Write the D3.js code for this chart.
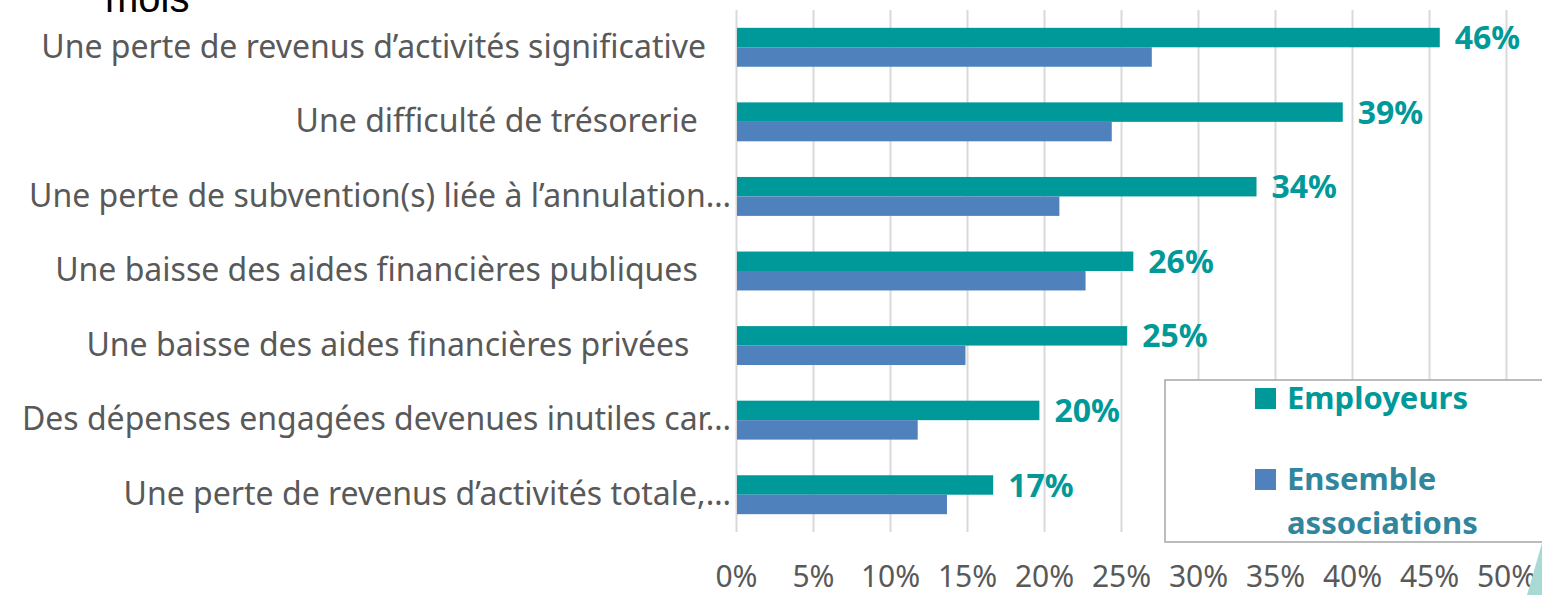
<!DOCTYPE html>
<html>
<head>
<meta charset="utf-8">
<script src="https://cdn.jsdelivr.net/npm/d3@7"></script>
<style>
  body { margin: 0; background: #fff; }
  svg { display: block; }
  .y-axis text { white-space: pre; }
</style>
</head>
<body>
<div class="chart"></div>
<script>
// chart data
var categories = [
  "Une perte de revenus d\u2019activités significative   ",
  "Une difficulté de trésorerie    ",
  "Une perte de subvention(s) liée à l\u2019annulation\u2026",
  "Une baisse des aides financières publiques    ",
  "Une baisse des aides financières privées     ",
  "Des dépenses engagées devenues inutiles car\u2026",
  "Une perte de revenus d\u2019activités totale,\u2026"
];
var seriesNames = ["Employeurs", "Ensemble associations"];
var employeurs = [0.457, 0.394, 0.338, 0.258, 0.254, 0.197, 0.167];
var ensemble = [0.270, 0.244, 0.210, 0.227, 0.149, 0.118, 0.137];
var tickValues = [0, 0.05, 0.10, 0.15, 0.20, 0.25, 0.30, 0.35, 0.40, 0.45, 0.50];

var svgWidth = 1542;
var svgHeight = 595;
var margin = { top: 10, right: 36, bottom: 63, left: 736 };
var width = svgWidth - margin.left - margin.right;
var height = svgHeight - margin.top - margin.bottom;

var colors = ["#009999", "#4F81BD"];
var legendText = ["#009999", "#31859C"];

var svg = d3
  .select(".chart")
  .append("svg")
  .attr("width", svgWidth)
  .attr("height", svgHeight);

// leftover of the title, cut by the top edge
svg.append("text")
  .attr("x", 105)
  .attr("y", 12)
  .style("font-family", "'Liberation Sans', Arial, sans-serif")
  .style("font-size", "40px")
  .attr("fill", "#000")
  .text("mois");

var chart = svg.append("g")
  .attr("transform", "translate(" + margin.left + "," + margin.top + ")");

var xScale = d3.scaleLinear().domain([0, 0.5]).range([0, width]);
var yScale = d3.scaleBand()
  .domain(categories)
  .range([0, height])
  .paddingInner(0.478)
  .paddingOuter(0.239);
var ySub = d3.scaleBand()
  .domain(seriesNames)
  .range([0, yScale.bandwidth()]);

// gridlines + bottom tick labels
var bottomAxis = d3.axisBottom(xScale)
  .tickValues(tickValues)
  .tickFormat(d3.format(".0%"))
  .tickSize(-height)
  .tickPadding(34);

var xAxis = chart.append("g")
  .attr("class", "x-axis")
  .attr("transform", "translate(0," + height + ")")
  .call(bottomAxis);
xAxis.select(".domain").remove();
xAxis.selectAll("line").attr("stroke", "#D9D9D9").attr("stroke-width", 2);
xAxis.selectAll("text")
  .attr("fill", "#595959")
  .style("font-family", "'Noto Sans', 'Open Sans', sans-serif")
  .style("font-size", "30px");

var leftAxis = d3.axisLeft(yScale).tickSize(0).tickPadding(5);
var yAxis = chart.append("g")
  .attr("class", "y-axis")
  .call(leftAxis);
yAxis.select(".domain").remove();
yAxis.selectAll("text")
  .attr("fill", "#595959")
  .style("font-family", "'Noto Sans', 'Open Sans', sans-serif")
  .style("font-size", "32px");

var rows = categories.map(function(c, i) {
  return { cat: c, values: [employeurs[i], ensemble[i]] };
});

var groups = chart.selectAll(".row")
  .data(rows)
  .enter()
  .append("g")
  .attr("class", "row")
  .attr("transform", function(d) { return "translate(0," + yScale(d.cat) + ")"; });

groups.selectAll("rect")
  .data(function(d) { return d.values; })
  .enter()
  .append("rect")
  .attr("x", xScale(0) + 1)
  .attr("y", function(d, i) { return ySub(seriesNames[i]); })
  .attr("width", function(d) { return xScale(d) - xScale(0) - 1; })
  .attr("height", ySub.bandwidth())
  .attr("fill", function(d, i) { return colors[i]; });

// data labels on the Employeurs bars
groups.append("text")
  .attr("x", function(d) { return xScale(d.values[0]) + 15; })
  .attr("y", ySub(seriesNames[0]) + ySub.bandwidth() / 2)
  .attr("dy", "0.36em")
  .attr("fill", colors[0])
  .style("font-family", "'Noto Sans', 'Open Sans', sans-serif")
  .style("font-size", "32px")
  .style("font-weight", "bold")
  .text(function(d) { return d3.format(".0%")(d.values[0]); });

// legend
var legend = svg.append("g").attr("transform", "translate(1165,380)");
legend.append("rect")
  .attr("width", 460)
  .attr("height", 162)
  .attr("fill", "#fff")
  .attr("stroke", "#A6A6A6")
  .attr("stroke-width", 1.5);

var legendLines = [["Employeurs"], ["Ensemble", "associations"]];
var legendTop = [8, 89];
legendLines.forEach(function(lines, i) {
  legend.append("rect")
    .attr("x", 90)
    .attr("y", legendTop[i])
    .attr("width", 21)
    .attr("height", 21)
    .attr("fill", colors[i]);
  var t = legend.append("text")
    .attr("x", 122)
    .attr("y", legendTop[i] + 21)
    .attr("fill", legendText[i])
    .style("font-family", "'Noto Sans', 'Open Sans', sans-serif")
    .style("font-size", "31px")
    .style("font-weight", "bold");
  lines.forEach(function(l, j) {
    t.append("tspan").attr("x", 122).attr("dy", j ? 44 : 0).text(l);
  });
});

// slide decoration in the corner
svg.append("polygon")
  .attr("points", "1527,595 1542,543 1542,595")
  .attr("fill", "#A9D9D3");
</script>
</body>
</html>
